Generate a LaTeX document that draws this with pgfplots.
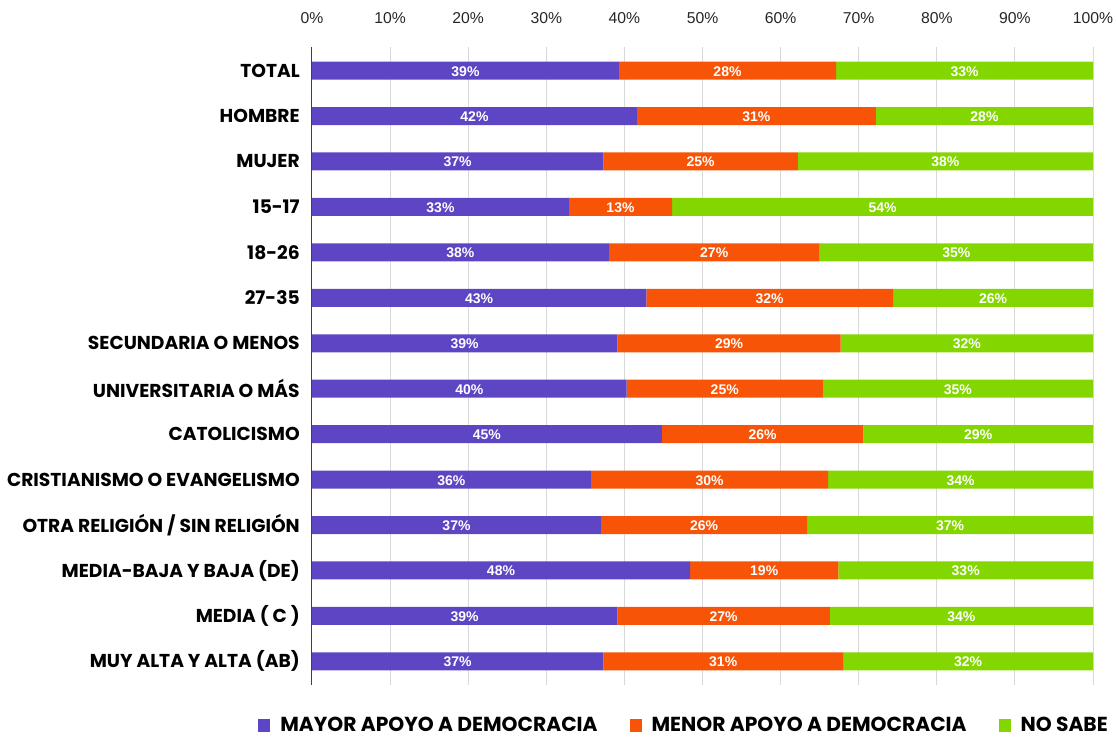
\documentclass[border=0pt]{standalone}
\usepackage{pgfplots}
\usepackage{pgfplotstable}
\pgfplotsset{compat=1.18}
\usepackage{fontspec}
\setmainfont{Liberation Sans}
\newfontfamily\catfont{Poppins}
\definecolor{cpurple}{RGB}{94,69,195}
\definecolor{corange}{RGB}{247,84,7}
\definecolor{cgreen}{RGB}{132,214,0}

% y: 13 = TOTAL (top) ... 0 = MUY ALTA Y ALTA (bottom)
\pgfplotstableread{
y v lab
13 39.3 39
12 41.6 42
11 37.3 37
10 32.9 33
9 38.0 38
8 42.8 43
7 39.1 39
6 40.3 40
5 44.8 45
4 35.7 36
3 37.0 37
2 48.4 48
1 39.1 39
0 37.3 37
}\mayor
\pgfplotstableread{
y v lab
13 27.8 28
12 30.6 31
11 24.9 25
10 13.2 13
9 27.0 27
8 31.6 32
7 28.6 29
6 25.1 25
5 25.8 26
4 30.4 30
3 26.4 26
2 19.0 19
1 27.2 27
0 30.7 31
}\menor
\pgfplotstableread{
y v lab
13 32.9 33
12 27.8 28
11 37.8 38
10 53.9 54
9 35.0 35
8 25.6 26
7 32.3 32
6 34.6 35
5 29.4 29
4 33.9 34
3 36.6 37
2 32.6 33
1 33.7 34
0 32.0 32
}\nosabe

\begin{document}
\begin{tikzpicture}
\begin{axis}[
  scale only axis, width=585.75pt, height=478.5pt,
  xbar stacked, bar width=13.5pt,
  xmin=0, xmax=100, ymin=-0.52, ymax=13.52,
  axis x line*=top, axis y line*=left,
  x axis line style={draw=none},
  y axis line style={draw=black!75, line width=0.75pt},
  xtick={0,10,...,100},
  xticklabels={0\%,10\%,20\%,30\%,40\%,50\%,60\%,70\%,80\%,90\%,100\%},
  xticklabel style={font=\fontsize{11.8}{12}\selectfont, text=black!85, anchor=center, yshift=21.75pt},
  xmajorgrids, grid style={draw=black!15, line width=0.75pt},
  major tick length=0pt,
  ytick={0,...,13},
  yticklabels={MUY ALTA Y ALTA (AB),MEDIA ( C ),MEDIA-BAJA Y BAJA (DE),OTRA RELIGIÓN / SIN RELIGIÓN,CRISTIANISMO O EVANGELISMO,CATOLICISMO,UNIVERSITARIA O MÁS,SECUNDARIA O MENOS,27-35,18-26,15-17,MUJER,HOMBRE,TOTAL},
  yticklabel style={font=\catfont\bfseries\fontsize{14}{16}\selectfont, anchor=east, inner sep=0pt, xshift=-9pt},
  point meta=explicit symbolic,
  nodes near coords={\pgfplotspointmeta\%},
  every node near coord/.append style={font=\bfseries\fontsize{10.5}{12}\selectfont, text=white, anchor=center, yshift=-0.5pt},
  legend columns=3,
  legend style={draw=none, fill=none, at={(axis description cs:-0.0691,-0.0630)}, anchor=west, inner sep=0pt,
    font=\catfont\bfseries\fontsize{15.2}{16}\selectfont,
    /tikz/every odd column/.append style={column sep=5.5pt},
    /tikz/every even column/.append style={column sep=22pt}},
  legend cell align=left,
  legend image code/.code={\fill[#1,draw=none] (0pt,-5pt) rectangle (9pt,5pt);},
]
\addplot[fill=cpurple, draw=none] table[x=v, y=y, meta=lab]{\mayor};
\addplot[fill=corange, draw=none] table[x=v, y=y, meta=lab]{\menor};
\addplot[fill=cgreen, draw=none] table[x=v, y=y, meta=lab]{\nosabe};
\legend{MAYOR APOYO A DEMOCRACIA, MENOR APOYO A DEMOCRACIA, NO SABE}
\end{axis}
\pgfresetboundingbox
\useasboundingbox (-234pt,-39pt) rectangle (603.75pt,513.75pt);
\end{tikzpicture}
\end{document}
